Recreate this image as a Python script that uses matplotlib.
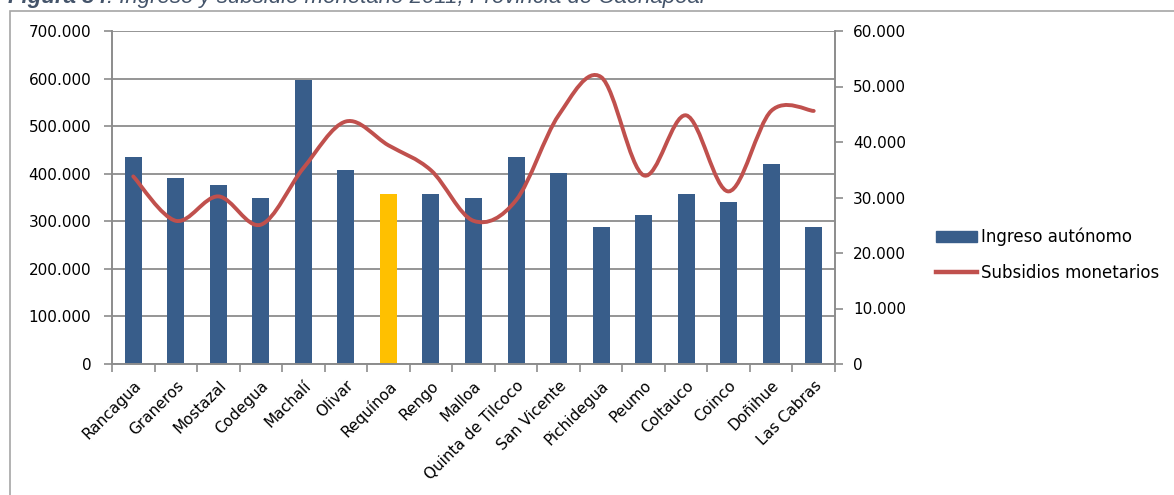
import numpy as np
import matplotlib
matplotlib.use("Agg")
import matplotlib.pyplot as plt
from matplotlib.patches import Rectangle, PathPatch
from matplotlib.lines import Line2D
from matplotlib.path import Path
from matplotlib.text import Annotation
from matplotlib.ticker import FuncFormatter, MultipleLocator

categories = ["Rancagua", "Graneros", "Mostazal", "Codegua", "Machalí", "Olivar",
              "Requínoa", "Rengo", "Malloa", "Quinta de Tilcoco", "San Vicente",
              "Pichidegua", "Peumo", "Coltauco", "Coinco", "Doñihue", "Las Cabras"]
ingreso = [436000, 391000, 376000, 349000, 598000, 408000, 358000, 358000, 349000,
           435000, 402000, 289000, 313000, 358000, 340000, 421000, 289000]
subsidios = [33800, 25800, 30200, 25100, 35300, 43700, 39400, 34900, 25800,
             29500, 44800, 51700, 34000, 44800, 31100, 45600, 45600]
highlight = "Requínoa"
title_bold = "Figura 34"
title_rest = ": Ingreso y subsidio monetario 2011, Provincia de Cachapoal"

W, H = 1174, 495
plt.rcParams['font.family'] = ['DejaVu Sans']
fig = plt.figure(figsize=(W / 100, H / 100), dpi=100)

FS = 11

# outer frame
fig.patches.append(Rectangle((10 / W, -0.05), 1.2, 1 - 11 / H + 0.05, transform=fig.transFigure,
                             fill=False, edgecolor='#a6a6a6', linewidth=1.2))
# cut-off caption
t1 = fig.text(8 / W, 1 - 8 / H, title_bold, fontsize=16, fontweight='bold', style='italic',
              color='#44546a', family='Liberation Sans', va='bottom', ha='left')
fig.add_artist(Annotation(title_rest, xy=(1, 0), xycoords=t1,
                          xytext=(0, 0), textcoords='offset points',
                          fontsize=16, style='italic', color='#44546a',
                          family='Liberation Sans', va='bottom', ha='left'))

x0, x1 = 112, 835
y0, y1 = 364, 31
ax = fig.add_axes([x0 / W, 1 - y0 / H, (x1 - x0) / W, (y0 - y1) / H])
ax2 = ax.twinx()

x = np.arange(len(categories))
colors = ['#ffc000' if c == highlight else '#385d8a' for c in categories]
ax.bar(x, ingreso, width=0.4, color=colors, edgecolor='none', zorder=2)
ax.set_xlim(-0.5, len(categories) - 0.5)
ax.set_ylim(0, 700000)
ax.yaxis.set_major_locator(MultipleLocator(100000))
fmt = FuncFormatter(lambda v, p: "0" if v == 0 else f"{int(v):,}".replace(",", "."))
ax.yaxis.set_major_formatter(fmt)
ax.grid(axis='y', color='#8c8c8c', linewidth=1.3, zorder=0)
ax.set_axisbelow(True)

# smooth line (Catmull-Rom like Excel smoothing)
pts = np.column_stack([x, subsidios]).astype(float)
verts = [tuple(pts[0])]
codes = [Path.MOVETO]
n = len(pts)
for i in range(n - 1):
    p_prev = pts[i - 1] if i > 0 else pts[i]
    p0 = pts[i]
    p1 = pts[i + 1]
    p_next = pts[i + 2] if i + 2 < n else pts[i + 1]
    c1 = p0 + (p1 - p_prev) / 6
    c2 = p1 - (p_next - p0) / 6
    verts += [tuple(c1), tuple(c2), tuple(p1)]
    codes += [Path.CURVE4] * 3
ax2.add_patch(PathPatch(Path(verts, codes), fill=False, edgecolor='#c0504d',
                        linewidth=2.8, capstyle='round', zorder=3))
ax2.set_ylim(0, 60000)
ax2.yaxis.set_major_locator(MultipleLocator(10000))
ax2.yaxis.set_major_formatter(fmt)

for a in (ax, ax2):
    a.spines['top'].set_visible(False)
    for s in ('left', 'right', 'bottom'):
        a.spines[s].set_color('#8c8c8c')
        a.spines[s].set_linewidth(1.2)
    a.tick_params(axis='y', colors='#8c8c8c', labelcolor='black', labelsize=FS,
                  length=6, width=1.2, direction='out')

ax.set_xticks(x)
ax.set_xticklabels(categories, rotation=45, ha='right', rotation_mode='anchor', fontsize=FS)
ax.tick_params(axis='x', length=0, pad=10)
ax.set_xticks(np.arange(-0.5, len(categories), 1.0), minor=True)
ax.tick_params(axis='x', which='minor', length=6, width=1.2, color='#8c8c8c', direction='out')
ax.tick_params(axis='y', pad=9)
ax2.tick_params(axis='y', pad=7)

handles = [Rectangle((0, 0), 1, 1, color='#385d8a'),
           Line2D([], [], color='#c0504d', linewidth=3.2)]
fig.legend(handles, ["Ingreso autónomo", "Subsidios monetarios"], loc='center left',
           bbox_to_anchor=(929 / W, 1 - 255 / H), frameon=False, fontsize=12,
           borderaxespad=0, handlelength=2.45, handleheight=0.65, handletextpad=0.25,
           labelspacing=1.05)

fig.savefig("out.png", dpi=100)
